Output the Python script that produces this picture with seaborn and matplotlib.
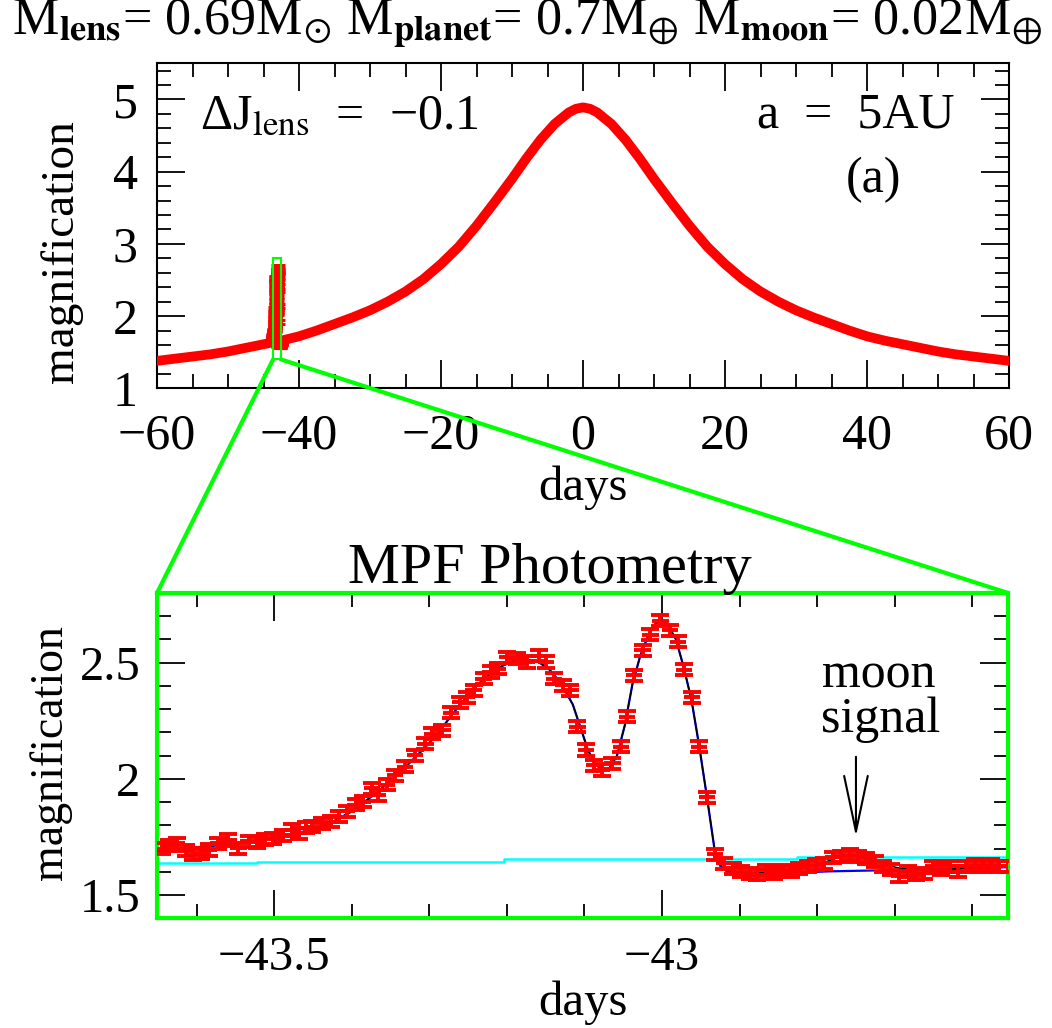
import matplotlib
matplotlib.use("Agg")
import numpy as np
import pandas as pd
import matplotlib.pyplot as plt
import seaborn as sns
from matplotlib.patches import Rectangle, ConnectionPatch
from matplotlib.ticker import MultipleLocator, FuncFormatter

# ---------------- data ----------------
# top panel: full light curve (centre of the thick red band)
top_days = [-60, -57.5, -55, -52.5, -50, -47.5, -45, -42.5, -40, -37.5, -35, -32.5, -30, -27.5,
            -25, -22.5, -20, -17.5, -15, -12.5, -10, -8, -6, -4, -2, -1, 0,
            1, 2, 4, 6, 8, 10, 12.5, 15, 17.5, 20, 22.5, 25, 27.5, 30, 32.5, 35, 37.5,
            40, 42.5, 45, 47.5, 50, 52.5, 55, 57.5, 60]
top_mag = [1.38, 1.41, 1.44, 1.47, 1.51, 1.56, 1.61, 1.66, 1.72, 1.80, 1.89, 1.98, 2.08, 2.20,
           2.34, 2.51, 2.72, 2.96, 3.25, 3.57, 3.90, 4.18, 4.44, 4.66, 4.82, 4.87, 4.89,
           4.87, 4.82, 4.66, 4.44, 4.18, 3.90, 3.57, 3.25, 2.96, 2.72, 2.51, 2.34, 2.20, 2.08, 1.98, 1.89, 1.80,
           1.72, 1.66, 1.61, 1.56, 1.51, 1.47, 1.44, 1.41, 1.38]

# bottom panel: MPF photometry points
data_days = [-43.645, -43.635, -43.625, -43.614, -43.604, -43.594, -43.584, -43.572, -43.559, -43.546,
             -43.533, -43.522, -43.512, -43.501, -43.489, -43.477, -43.468, -43.459, -43.451, -43.438,
             -43.427, -43.417, -43.406, -43.395, -43.385, -43.374, -43.366, -43.355, -43.344, -43.331,
             -43.318, -43.305, -43.296, -43.283, -43.272, -43.260, -43.251, -43.243, -43.230, -43.221,
             -43.212, -43.200, -43.187, -43.174, -43.159, -43.150, -43.139, -43.127, -43.118, -43.109,
             -43.098, -43.088, -43.077, -43.064, -43.053, -43.045, -43.036, -43.025, -43.015, -43.002,
             -42.990, -42.979, -42.972, -42.961, -42.952, -42.942, -42.932, -42.920, -42.909, -42.898,
             -42.887, -42.877, -42.866, -42.855, -42.844, -42.834, -42.823, -42.812, -42.801, -42.791,
             -42.780, -42.769, -42.758, -42.748, -42.737, -42.726, -42.715, -42.705, -42.694, -42.683,
             -42.672, -42.662, -42.651, -42.640, -42.629, -42.619, -42.608, -42.597, -42.586, -42.576,
             -42.565, -42.554]
data_mag = [1.700, 1.712, 1.723, 1.690, 1.673, 1.680, 1.694, 1.723, 1.737, 1.702,
            1.732, 1.728, 1.740, 1.745, 1.758, 1.780, 1.766, 1.790, 1.794, 1.809,
            1.816, 1.837, 1.860, 1.888, 1.902, 1.959, 1.930, 1.975, 2.016, 2.052,
            2.102, 2.152, 2.195, 2.209, 2.285, 2.330, 2.352, 2.381, 2.431, 2.460,
            2.474, 2.524, 2.517, 2.503, 2.531, 2.503, 2.431, 2.403, 2.381, 2.224,
            2.124, 2.059, 2.038, 2.067, 2.138, 2.267, 2.446, 2.553, 2.620, 2.680,
            2.640, 2.590, 2.470, 2.352, 2.138, 1.920, 1.676, 1.637, 1.616, 1.601,
            1.594, 1.587, 1.606, 1.594, 1.606, 1.601, 1.616, 1.623, 1.630, 1.637,
            1.663, 1.666, 1.673, 1.666, 1.659, 1.644, 1.623, 1.609, 1.580, 1.601,
            1.587, 1.594, 1.623, 1.609, 1.623, 1.601, 1.623, 1.630, 1.623, 1.630,
            1.623, 1.623]
data_yerr = 0.024
data_xerr = 0.0105

# models
model_days = [-43.651, -43.62, -43.58, -43.54, -43.50, -43.46, -43.43, -43.40, -43.37, -43.34,
              -43.31, -43.29, -43.27, -43.25, -43.23, -43.21, -43.19, -43.175, -43.16, -43.145,
              -43.13, -43.115, -43.105, -43.095, -43.085, -43.077, -43.068, -43.058, -43.048, -43.038,
              -43.028, -43.018, -43.008, -43.000, -42.992, -42.982, -42.972, -42.962, -42.952, -42.942,
              -42.932, -42.925, -42.915, -42.900, -42.880, -42.860, -42.840, -42.820, -42.800, -42.785,
              -42.770, -42.755, -42.740, -42.725, -42.710, -42.695, -42.680, -42.650, -42.620, -42.590,
              -42.554]
model_moon = [1.690, 1.700, 1.712, 1.725, 1.745, 1.775, 1.805, 1.860, 1.935, 2.020,
              2.120, 2.190, 2.280, 2.360, 2.430, 2.480, 2.510, 2.515, 2.505, 2.470,
              2.410, 2.320, 2.220, 2.120, 2.060, 2.040, 2.045, 2.100, 2.230, 2.410,
              2.530, 2.615, 2.670, 2.680, 2.660, 2.600, 2.480, 2.340, 2.140, 1.920,
              1.690, 1.630, 1.605, 1.598, 1.595, 1.598, 1.603, 1.612, 1.628, 1.648,
              1.665, 1.672, 1.662, 1.645, 1.628, 1.617, 1.612, 1.612, 1.615, 1.618,
              1.622]
model_planet = [1.690, 1.700, 1.712, 1.725, 1.745, 1.775, 1.805, 1.860, 1.935, 2.020,
                2.120, 2.190, 2.280, 2.360, 2.430, 2.480, 2.510, 2.515, 2.505, 2.470,
                2.410, 2.320, 2.220, 2.120, 2.060, 2.040, 2.045, 2.100, 2.230, 2.410,
                2.530, 2.615, 2.670, 2.680, 2.660, 2.600, 2.480, 2.340, 2.140, 1.920,
                1.690, 1.625, 1.598, 1.588, 1.582, 1.585, 1.590, 1.596, 1.600, 1.602,
                1.603, 1.604, 1.605, 1.606, 1.607, 1.608, 1.609, 1.611, 1.613, 1.616,
                1.620]
single_days = [-43.651, -43.522, -43.204, -42.826, -42.554]
single_mag = [1.637, 1.644, 1.654, 1.662, 1.662]

# ---------------- style ----------------
sns.set_style("ticks")
plt.rcParams["font.family"] = ["Liberation Serif", "DejaVu Serif", "DejaVu Sans"]
plt.rcParams["mathtext.fontset"] = "stix"
plt.rcParams["axes.unicode_minus"] = True
plt.rcParams["text.color"] = "black"
plt.rcParams["axes.labelcolor"] = "black"
plt.rcParams["xtick.color"] = "black"
plt.rcParams["ytick.color"] = "black"
plt.rcParams["xtick.labelcolor"] = "black"
plt.rcParams["ytick.labelcolor"] = "black"

W, H = 1052, 1028
fig = plt.figure(figsize=(W / 100, H / 100), dpi=100)
fig.patch.set_facecolor("white")


def rect(l, t, r, b):
    return [l / W, 1 - b / H, (r - l) / W, (b - t) / H]


def fx(px):
    return px / W


def fy(py):
    return 1 - py / H


ax1 = fig.add_axes(rect(157, 63.3, 1009, 388.3))
ax2 = fig.add_axes(rect(157, 593, 1008, 918.3))

FS1 = 36
FS2 = 35
fmt = FuncFormatter(lambda v, p: ("%g" % v).replace("-", "\u2212"))

for ax, fs in ((ax1, FS1), (ax2, FS2)):
    ax.set_facecolor("white")
    ax.tick_params(which="both", direction="in", top=True, right=True,
                   width=1.3, color="black", labelcolor="black", labelsize=fs)
    ax.tick_params(which="major", length=20)
    ax.tick_params(which="minor", length=10)
    ax.xaxis.set_major_formatter(fmt)
    ax.yaxis.set_major_formatter(fmt)

# ---- top panel ----
sns.lineplot(x=top_days, y=top_mag, ax=ax1, color="#ff0000", lw=7, zorder=3)
ax1.errorbar(data_days, data_mag, yerr=data_yerr, fmt="none", ecolor="#ff0000",
             elinewidth=2.2, capsize=5.0, capthick=2.2, zorder=3)
ax1.add_patch(Rectangle((-43.65, 1.4), 1.1, 1.4, fill=False, ec="#00ff00", lw=1.5, zorder=5))
ax1.set_xlim(-60, 60)
ax1.set_ylim(1, 5.5)
ax1.xaxis.set_major_locator(MultipleLocator(20))
ax1.xaxis.set_minor_locator(MultipleLocator(5))
ax1.yaxis.set_major_locator(MultipleLocator(1))
ax1.yaxis.set_minor_locator(MultipleLocator(0.2))
ax1.tick_params(axis="x", which="both", pad=18)
ax1.tick_params(axis="y", which="both", pad=14)
for s in ax1.spines.values():
    s.set_linewidth(1.5)
    s.set_color("black")
ax1.set_xlabel("days", fontsize=35, va="center", color="black")
ax1.xaxis.set_label_coords(0.5, -0.305)
ax1.set_ylabel("magnification", fontsize=34, va="center", color="black")
ax1.yaxis.set_label_coords(-0.112, 0.42)

# ---- bottom panel ----
sns.lineplot(x=single_days, y=single_mag, ax=ax2, color="#00ffff", lw=1.8,
             drawstyle="steps-post", zorder=2)
sns.lineplot(x=model_days, y=model_planet, ax=ax2, color="#0000ff", lw=1.6, zorder=2.5)
sns.lineplot(x=model_days, y=model_moon, ax=ax2, color="black", lw=1.1, zorder=2.7)
ax2.errorbar(data_days, data_mag, yerr=data_yerr, fmt="none", ecolor="#ff0000",
             elinewidth=2.8, capsize=6.3, capthick=2.8, zorder=3)
ax2.errorbar(data_days, data_mag, xerr=data_xerr, fmt="none", ecolor="#ff0000",
             elinewidth=2.8, capsize=0, zorder=3)
ax2.set_xlim(-43.651, -42.554)
ax2.set_ylim(1.4, 2.8)
ax2.xaxis.set_major_locator(MultipleLocator(0.5))
ax2.xaxis.set_minor_locator(MultipleLocator(0.1))
ax2.yaxis.set_major_locator(MultipleLocator(0.5))
ax2.yaxis.set_minor_locator(MultipleLocator(0.1))
ax2.tick_params(axis="x", which="both", pad=13)
ax2.tick_params(axis="y", which="both", pad=12)
for s in ax2.spines.values():
    s.set_linewidth(3)
    s.set_color("#00ff00")
ax2.set_xlabel("days", fontsize=35, va="center", color="black")
ax2.xaxis.set_label_coords(0.5, -0.26)
ax2.set_ylabel("magnification", fontsize=33, va="center", color="black")
ax2.yaxis.set_label_coords(-0.125, 0.51)

ax2.annotate("", xy=(-42.750, 1.752), xytext=(-42.750, 2.095),
             arrowprops=dict(arrowstyle="->,head_length=4.0,head_width=0.85",
                             lw=1.5, color="black", shrinkA=0, shrinkB=0,
                             mutation_scale=10))

# zoom connectors
for xa, xb in ((-43.65, 0), (-42.55, 1)):
    con = ConnectionPatch(xyA=(xa, 1.4), coordsA=ax1.transData,
                          xyB=(xb, 1), coordsB=ax2.transAxes,
                          color="#00ff00", lw=3, zorder=1)
    fig.add_artist(con)

# ---- texts ----
fig.text(fx(527), fy(24),
         r"M$_{\mathbf{lens}}$= 0.69M$_{\odot}$ M$_{\mathbf{planet}}$= 0.7M$_{\oplus}$ "
         r"M$_{\mathbf{moon}}$= 0.02M$_{\oplus}$",
         ha="center", va="center", fontsize=37.5, color="black")
fig.text(fx(200), fy(128), "\u0394J$_{\\rm lens}$  =  \u22120.1",
         ha="left", va="baseline", fontsize=36, color="black")
fig.text(fx(757), fy(128), "a  =  5AU", ha="left", va="baseline", fontsize=36, color="black")
fig.text(fx(874), fy(180), "(a)", ha="center", va="center", fontsize=36, color="black")
fig.text(fx(550), fy(583), "MPF Photometry", ha="center", va="baseline", fontsize=42, color="black")
fig.text(fx(879), fy(688), "moon", ha="center", va="baseline", fontsize=36, color="black")
fig.text(fx(881), fy(732), "signal", ha="center", va="baseline", fontsize=36, color="black")

fig.savefig("out.png", dpi=100)
